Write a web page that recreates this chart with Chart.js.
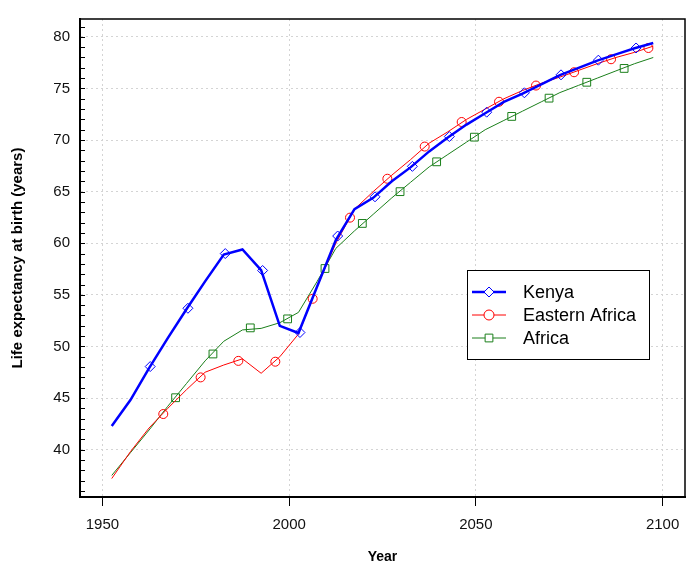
<!DOCTYPE html>
<html>
<head>
<meta charset="utf-8">
<script src="https://cdn.jsdelivr.net/npm/chart.js@4/dist/chart.umd.min.js"></script>
<style>
  html, body { margin: 0; padding: 0; background: #fff; }
  #wrap { width: 697px; height: 568px; position: relative; }
</style>
</head>
<body>
<div id="wrap"><canvas id="Chart" width="697" height="568"></canvas></div>
<script>
// 5-year period midpoints
const years = [1952.5, 1957.5, 1962.5, 1967.5, 1972.5, 1977.5, 1982.5, 1987.5, 1992.5, 1997.5,
               2002.5, 2007.5, 2012.5, 2017.5, 2022.5, 2027.5, 2032.5, 2037.5, 2042.5, 2047.5,
               2052.5, 2057.5, 2062.5, 2067.5, 2072.5, 2077.5, 2082.5, 2087.5, 2092.5, 2097.5];
const kenya = [42.3, 44.8, 47.9, 50.8, 53.6, 56.3, 58.9, 59.4, 57.4, 52.0,
               51.3, 55.8, 60.3, 63.3, 64.4, 66.0, 67.35, 68.9, 70.25, 71.5,
               72.6, 73.7, 74.5, 75.4, 76.3, 77.0, 77.7, 78.3, 78.9, 79.4];
const eastAfrica = [37.2, 39.8, 42.1, 44.0, 45.8, 47.5, 48.2, 48.8, 47.4, 49.0,
                    51.2, 55.8, 60.0, 63.3, 65.0, 66.6, 68.1, 69.7, 70.8, 72.0,
                    73.0, 74.0, 74.8, 75.5, 76.1, 76.75, 77.4, 78.0, 78.5, 79.1];
const africa = [37.5, 39.7, 41.9, 44.2, 46.4, 48.6, 50.5, 51.6, 51.75, 52.3,
                53.3, 56.3, 59.5, 61.2, 62.8, 64.4, 65.9, 67.4, 68.6, 69.8,
                71.0, 71.9, 72.8, 73.7, 74.6, 75.3, 76.0, 76.7, 77.4, 78.0];

// marker positions along each line
const kenyaMkYears = [1962.8, 1972.9, 1982.9, 1992.9, 2002.9, 2013.0, 2023.0, 2033.0, 2042.9, 2052.9, 2063.0, 2072.8, 2082.8, 2092.9];
const kenyaMk = [48.05, 53.7, 59.0, 57.36, 51.35, 60.7, 64.5, 67.45, 70.34, 72.7, 74.58, 76.32, 77.74, 78.92];
const eastMkYears = [1966.3, 1976.3, 1986.4, 1996.3, 2006.3, 2016.3, 2026.3, 2036.3, 2046.2, 2056.2, 2066.1, 2076.3, 2086.2, 2096.2];
const eastMk = [43.45, 47.0, 48.6, 48.52, 54.62, 62.48, 66.25, 69.37, 71.75, 73.71, 75.28, 76.57, 77.83, 78.92];
const africaMkYears = [1969.6, 1979.6, 1989.6, 1999.6, 2009.6, 2019.6, 2029.7, 2039.5, 2049.6, 2059.6, 2069.6, 2079.7, 2089.7];
const africaMk = [45.03, 49.27, 51.8, 52.67, 57.55, 61.92, 65.0, 67.89, 70.28, 72.29, 74.06, 75.6, 76.94];

const xTicks = [1950, 2000, 2050, 2100];
const yTicks = [40, 45, 50, 55, 60, 65, 70, 75, 80];

const seriesNames = ['Kenya', 'Eastern Africa', 'Africa'];
const colors = ['#0000ff', '#ff0000', '#1a7f1a'];

function pts(xs, ys) { return xs.map((x, i) => ({ x: x, y: ys[i] })); }

const FONT = "'Liberation Sans', Arial, sans-serif";

// frame, minor ticks, axis titles, legend
const extras = {
  id: 'extras',
  afterDraw(chart) {
    const ctx = chart.ctx;
    const a = chart.chartArea;
    const ys = chart.scales.y;
    ctx.save();
    ctx.setLineDash([]);
    ctx.strokeStyle = '#000';
    ctx.lineWidth = 1.5;
    ctx.strokeRect(a.left, a.top, a.right - a.left, a.bottom - a.top);
    ctx.lineWidth = 2;
    ctx.beginPath();
    ctx.moveTo(a.left, a.top); ctx.lineTo(a.left, a.bottom); ctx.lineTo(a.right, a.bottom);
    ctx.stroke();
    // minor ticks on y, pointing inward
    ctx.lineWidth = 1;
    for (let v = 36; v <= 81; v++) {
      const py = Math.round(ys.getPixelForValue(v)) + 0.5;
      ctx.beginPath();
      ctx.moveTo(a.left, py);
      ctx.lineTo(a.left + 5, py);
      ctx.stroke();
    }
    // axis titles
    ctx.fillStyle = '#000';
    ctx.font = 'bold 14px ' + FONT;
    ctx.textAlign = 'center';
    ctx.textBaseline = 'middle';
    ctx.fillText('Year', (a.left + a.right) / 2, 557);
    ctx.save();
    ctx.translate(18, (a.top + a.bottom) / 2);
    ctx.rotate(-Math.PI / 2);
    ctx.font = 'bold 15px ' + FONT;
    ctx.fillText('Life expectancy at birth (years)', 0, 0);
    ctx.restore();

    // legend
    const lx = 467, ly = 270, lw = 182, lh = 89;
    ctx.fillStyle = '#fff';
    ctx.fillRect(lx, ly, lw, lh);
    ctx.strokeStyle = '#000';
    ctx.lineWidth = 1;
    ctx.strokeRect(lx + 0.5, ly + 0.5, lw, lh);
    const styles = ['rectRot', 'circle', 'rect'];
    const widths = [2.5, 1, 1];
    ctx.font = '18px ' + FONT;
    ctx.textAlign = 'left';
    seriesNames.forEach((name, i) => {
      const cy = 292 + i * 23;
      ctx.strokeStyle = colors[i];
      ctx.lineWidth = widths[i];
      ctx.beginPath();
      ctx.moveTo(472, cy);
      ctx.lineTo(506, cy);
      ctx.stroke();
      ctx.lineWidth = 1;
      ctx.fillStyle = '#fff';
      Chart.helpers.drawPoint(ctx, { pointStyle: styles[i], radius: i === 2 ? 5.5 : 5, borderWidth: 1 }, 489, cy);
      ctx.fillStyle = '#000';
      ctx.fillText(name, 523, cy + 1);
    });
    ctx.restore();
  }
};

const lineDs = (label, data, color, w) => ({
  label: label, data: pts(years, data), borderColor: color, borderWidth: w,
  pointRadius: 0, showLine: true, fill: false, tension: 0
});
const markDs = (label, xs, ys, color, style, r) => ({
  label: label, data: pts(xs, ys), borderColor: color, backgroundColor: 'rgba(0,0,0,0)',
  pointStyle: style, pointRadius: r, pointBorderWidth: 1, showLine: false
});

new Chart(document.getElementById('Chart'), {
  type: 'scatter',
  data: {
    datasets: [
      markDs('Kenya markers', kenyaMkYears, kenyaMk, colors[0], 'rectRot', 5),
      lineDs('Kenya', kenya, colors[0], 2.5),
      markDs('Eastern Africa markers', eastMkYears, eastMk, colors[1], 'circle', 4.5),
      lineDs('Eastern Africa', eastAfrica, colors[1], 1),
      markDs('Africa markers', africaMkYears, africaMk, colors[2], 'rect', 5.5),
      lineDs('Africa', africa, colors[2], 1)
    ]
  },
  options: {
    responsive: false,
    animation: false,
    layout: { padding: { top: 6, right: 12, left: 0, bottom: 0 } },
    plugins: { legend: { display: false }, tooltip: { enabled: false } },
    scales: {
      x: {
        type: 'linear', min: 1944, max: 2106,
        afterBuildTicks: s => { s.ticks = xTicks.map(v => ({ value: v })); },
        afterFit: s => { s.height = 71; },
        ticks: { color: '#111', font: { family: FONT, size: 15 }, padding: 10, callback: v => String(v) },
        grid: { color: '#d4d4d4', tickColor: '#000', tickLength: 9, tickBorderDash: [] },
        border: { display: true, color: '#000', width: 2, dash: [2, 3] }
      },
      y: {
        type: 'linear', min: 35.41, max: 81.73,
        afterBuildTicks: s => { s.ticks = yTicks.map(v => ({ value: v })); },
        afterFit: s => { s.width = 80; },
        ticks: { color: '#111', font: { family: FONT, size: 15 }, padding: 10, callback: v => String(v) },
        grid: { color: '#d4d4d4', drawTicks: false },
        border: { display: true, color: '#000', width: 2, dash: [2, 3] }
      }
    }
  },
  plugins: [extras]
});
</script>
</body>
</html>
